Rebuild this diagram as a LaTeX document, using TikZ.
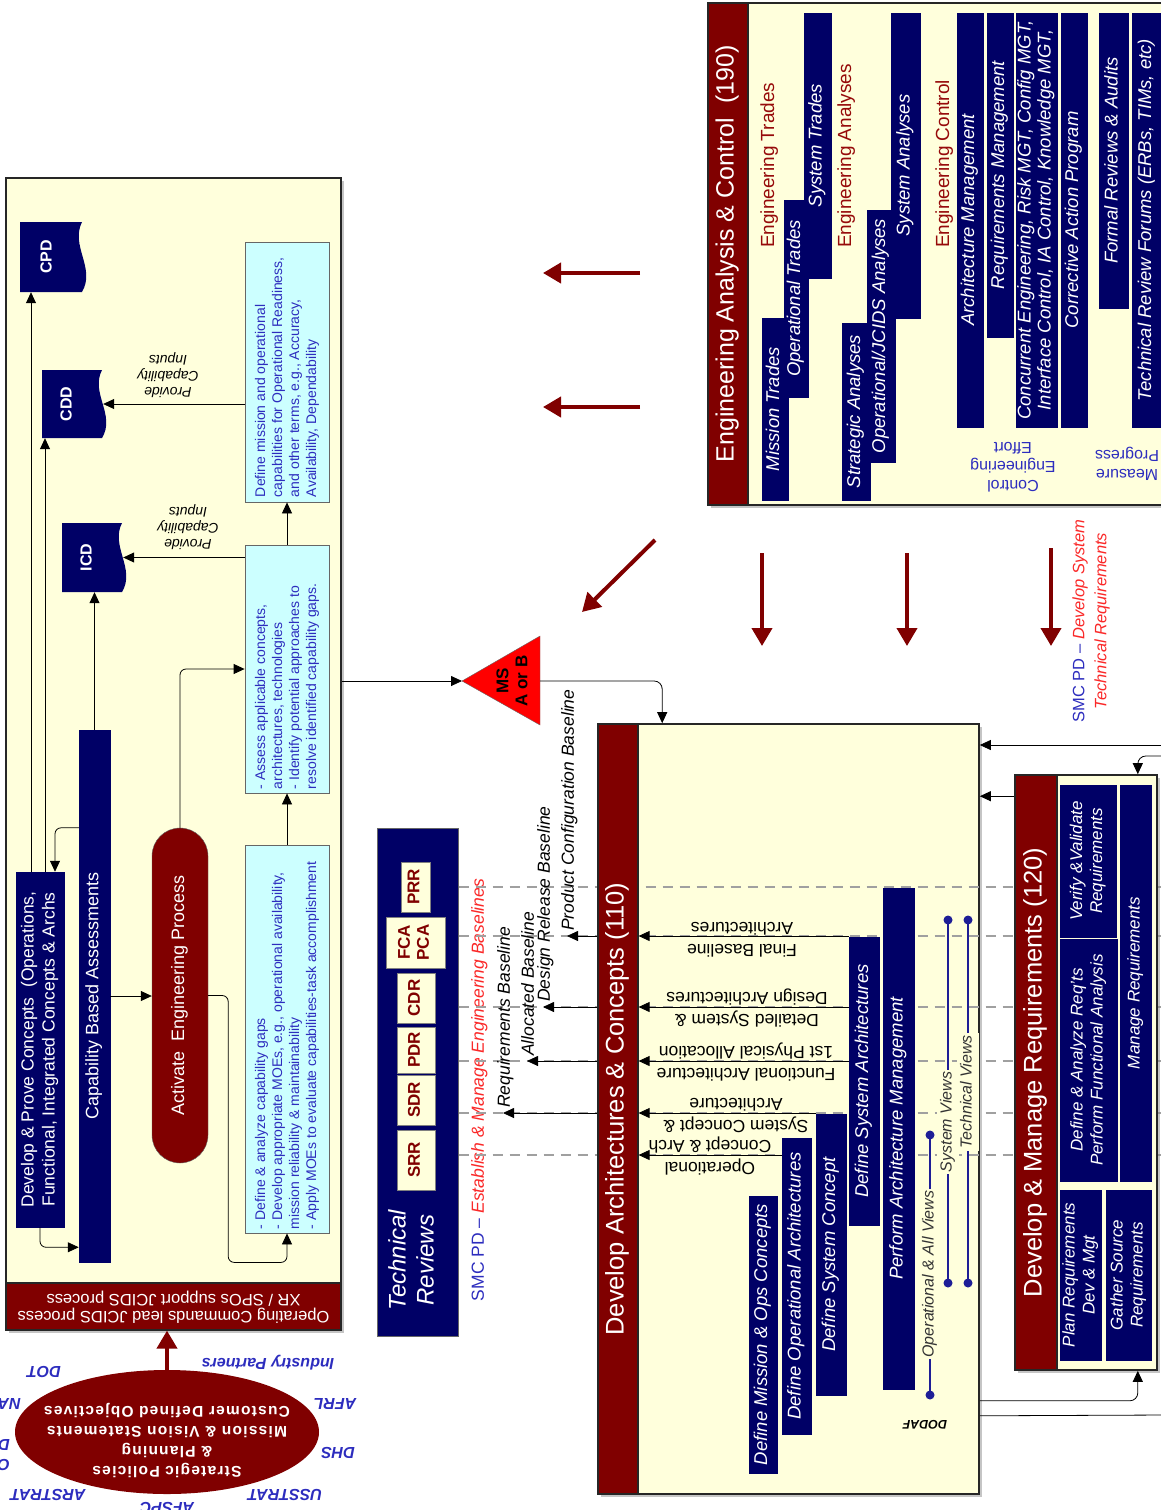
\documentclass[tikz,border=0pt]{standalone}
\usepackage{fontspec}
\setmainfont{Liberation Sans}
\usetikzlibrary{shapes.geometric,arrows.meta,positioning,shadows,calc}

\definecolor{dred}{RGB}{128,0,0}
\definecolor{navy}{RGB}{0,0,102}
\definecolor{cream}{RGB}{255,255,220}
\definecolor{lcyan}{RGB}{204,255,255}
\definecolor{tblue}{RGB}{45,45,190}
\definecolor{hred}{RGB}{150,10,10}
\definecolor{lred}{RGB}{250,40,40}
\definecolor{dgray}{RGB}{160,160,160}
\definecolor{legblue}{RGB}{30,30,150}
\definecolor{msred}{RGB}{255,0,0}

% rotated text helpers
\newcommand{\fs}[2]{\fontsize{#1}{#2}\selectfont}
\newcommand{\vt}[1]{\rotatebox{90}{\begin{tabular}{@{}c@{}}#1\end{tabular}}}
\newcommand{\vtl}[2]{\rotatebox{90}{\parbox{#1}{\raggedright #2}}}
\newcommand{\ut}[1]{\rotatebox{180}{\begin{tabular}{@{}c@{}}#1\end{tabular}}}

\tikzset{
  bigbox/.style={draw=black!85, line width=1.6pt, fill=cream, inner sep=0pt,
    drop shadow={shadow xshift=3pt, shadow yshift=-3pt, fill=black!45}},
  band/.style={draw=black!85, line width=1.2pt, fill=dred, text=white, inner sep=0pt},
  navybar/.style={fill=navy, draw=navy, line width=0.5pt, text=white, inner sep=0pt},
  ital/.style={font=\fs{18.5}{20}\itshape},
  head/.style={text=hred, inner sep=0pt, font=\fs{19}{21}},
  cyanbox/.style={fill=lcyan, draw=black!60, line width=0.8pt, text=tblue, inner sep=0pt},
  revbox/.style={fill=cream, draw=black!50, line width=0.5pt, text=dred, inner sep=0pt, font=\fs{17}{19}\bfseries},
  doctxt/.style={text=white, inner sep=0pt, font=\fs{16}{18}\bfseries},
  bigarrow/.style={draw=dred, line width=4pt, -{Triangle[length=18pt,width=20pt]}},
  conn/.style={draw=black, line width=0.8pt, -{Triangle[length=11pt,width=10pt]}},
  dashline/.style={draw=dgray, line width=2.5pt, dash pattern=on 10pt off 7pt},
  lbl/.style={inner sep=1pt, font=\fs{14}{16}\itshape},
  blabel/.style={text=tblue, inner sep=0pt, font=\fs{16}{19}},
  orgl/.style={text=tblue, inner sep=0pt, font=\fs{16}{18}\bfseries\itshape},
  bltxt/.style={inner sep=0pt, font=\fs{17.5}{19}\itshape},
  arrtxt/.style={inner sep=0pt, font=\fs{17.5}{22}},
  legline/.style={draw=legblue, line width=1.2pt},
  legtxt/.style={fill=cream, inner sep=2pt, text=black!80, font=\fs{16}{18}\itshape}
}

\begin{document}
\begin{tikzpicture}[x=1pt, y=-1pt]
\useasboundingbox (0,0) rectangle (1161,1510);

% ---------------- Engineering Analysis & Control
\node (eacbox) [bigbox, minimum width=467, minimum height=502] at (941.5,254) {};
\node (eacband) [band, minimum width=40, minimum height=502, font=\fs{25}{28}] at (728,254) {\vt{Engineering Analysis \& Control~~(190)}};

\node (engtr) [head, anchor=south] at (770,248) {\vt{Engineering Trades}};
\node (mistr) [navybar, ital, minimum width=26, minimum height=182] at (775,409) {\vt{Mission Trades}};
\node (optr) [navybar, ital, minimum width=24, minimum height=197] at (796,298.5) {\vt{Operational Trades}};
\node (systr) [navybar, ital, minimum width=27, minimum height=265] at (817.5,145.5) {\vt{System Trades}};

\node (engan) [head, anchor=south] at (847,248) {\vt{Engineering Analyses}};
\node (stran) [navybar, ital, minimum width=28, minimum height=177] at (856,411.5) {\vt{Strategic Analyses}};
\node (opjan) [navybar, ital, minimum width=28, minimum height=252] at (881,336) {\vt{Operational/JCIDS Analyses}};
\node (sysan) [navybar, ital, minimum width=29, minimum height=305] at (905.5,165.5) {\vt{System Analyses}};

\node (engco) [head, anchor=south] at (945,248) {\vt{Engineering Control}};
\node (archm) [navybar, ital, minimum width=26, minimum height=414] at (970,220) {\vt{Architecture Management}};
\node (reqm) [navybar, ital, minimum width=26, minimum height=324] at (1000,175) {\vt{Requirements Management}};
\node (conc) [navybar, ital, minimum width=41, minimum height=414] at (1036.5,220) {\vt{Concurrent Engineering, Risk MGT, Config MGT,\\Interface Control, IA Control, Knowledge MGT,}};
\node (corr) [navybar, ital, minimum width=26, minimum height=414] at (1074,220) {\vt{Corrective Action Program}};
\node (frev) [navybar, ital, minimum width=29, minimum height=295] at (1113.5,160.5) {\vt{Formal Reviews \& Audits}};
\node (trev) [navybar, ital, minimum width=30, minimum height=414] at (1147,220) {\vt{Technical Review Forums (ERBs, TIMs, etc)}};

\node (ctrl) [blabel] at (1013,465) {\ut{Control\\Engineering\\Effort}};
\node (meas) [blabel] at (1127,464) {\ut{Measure\\Progress}};

% feedback arrows
\coordinate (fa1) at (640,273);  \coordinate (fa2) at (543,273);
\coordinate (fb1) at (640,407);  \coordinate (fb2) at (543,407);
\coordinate (fc1) at (655,540);  \coordinate (fc2) at (582,612);
\coordinate (fd1) at (762,553);  \coordinate (fd2) at (762,646);
\coordinate (fe1) at (907,553);  \coordinate (fe2) at (907,646);
\coordinate (ff1) at (1051,548); \coordinate (ff2) at (1051,646);
\draw[bigarrow] (fa1) -- (fa2);
\draw[bigarrow] (fb1) -- (fb2);
\draw[bigarrow] (fc1) -- (fc2);
\draw[bigarrow] (fd1) -- (fd2);
\draw[bigarrow] (fe1) -- (fe2);
\draw[bigarrow] (ff1) -- (ff2);

\node (smcdev) [inner sep=0pt, font=\fs{16.5}{22}] at (1091,621) {\vt{{\color{tblue}SMC PD --} {\color{lred}\itshape Develop System}\\{\color{lred}\itshape Technical Requirements}}};

% ---------------- JCIDS box
\node (jbox) [bigbox, minimum width=335, minimum height=1152] at (173.5,754) {};
\node (jband) [band, minimum width=335, minimum height=47, font=\fs{16.5}{17}] at (173.5,1306.5) {\ut{Operating Commands lead JCIDS process\\XR / SPOs support JCIDS process}};

\fill[navy] (20,222) -- (82,222) .. controls (70,246) and (96,268) .. (82,292) -- (20,292) -- cycle;
\node (cpd) [doctxt, minimum width=56, minimum height=70] at (48,257) {\vt{CPD}};
\fill[navy] (42,370) -- (102,370) .. controls (90,393) and (116,415) .. (102,438) -- (42,438) -- cycle;
\node (cdd) [doctxt, minimum width=52, minimum height=68] at (68,404) {\vt{CDD}};
\fill[navy] (62,523) -- (122,523) .. controls (110,546) and (136,569) .. (122,592) -- (62,592) -- cycle;
\node (icd) [doctxt, minimum width=52, minimum height=69] at (88,557.5) {\vt{ICD}};

\node (cbdef) [cyanbox, minimum width=84, minimum height=260, font=\fs{14}{17}] at (287,372) {\vtl{250pt}{Define mission and operational\\capabilities for Operational Readiness,\\and other terms, e.g., Accuracy,\\Availability, Dependability}};
\node (cbass) [cyanbox, minimum width=84, minimum height=248, font=\fs{14}{17}] at (287,669) {\vtl{240pt}{- Assess applicable concepts,\\architectures, technologies\\- Identify potential approaches to\\resolve identified capability gaps.}};
\node (cbgap) [cyanbox, minimum width=84, minimum height=388, font=\fs{14}{17}] at (287,1039) {\vtl{380pt}{- Define \& analyze capability gaps\\- Develop appropriate MOEs, e.g., operational availability,\\mission reliability \& maintainability\\- Apply MOEs to evaluate capabilities-task accomplishment}};

\node (devp) [navybar, font=\fs{17.5}{21}, minimum width=48, minimum height=355] at (40,1049.5) {\vt{Develop \& Prove Concepts~~(Operations,\\Functional, Integrated Concepts \& Archs}};
\node (cba) [navybar, font=\fs{18}{20}, minimum width=31, minimum height=532] at (94.5,996) {\vt{Capability Based Assessments}};
\node (act) [fill=dred, draw=black!60, rounded corners=28pt, text=white, inner sep=0pt, font=\fs{18}{20}, minimum width=56, minimum height=335] at (180,995.5) {\vt{Activate~~Engineering Process}};

\draw[conn] ([xshift=-9pt]devp.north) -- ([xshift=-9pt]devp.north |- cpd.south);
\draw[conn] ([xshift=5pt]devp.north) -- ([xshift=5pt]devp.north |- cdd.south);
\draw[conn] (cba.north) -- (cba.north |- icd.south);
\draw[conn, rounded corners=6pt] (cba.west |- act.north) -| ([xshift=15pt]devp.north);
\draw[conn, rounded corners=6pt] (devp.south) |- ([yshift=15pt]cba.south west);
\draw[conn] (cba.east) -- (cba.east -| act.west);
\draw[conn, rounded corners=6pt] (act.north) |- (cbass.west);
\draw[conn, rounded corners=6pt] (act.east) -- ++(20,0) |- ([yshift=-29pt]cbgap.south) -- (cbgap.south);
\draw[conn] (cbgap.north) -- (cbass.south);
\draw[conn] (cbass.north) -- (cbdef.south);
\draw[conn] (cbdef.west |- cdd) -- ([xshift=9pt]cdd.east);
\draw[conn] (cbass.west |- icd) -- ([xshift=9pt]icd.east);
\node (pci1) [lbl] at (168,375) {\ut{Provide\\Capability\\Inputs}};
\node (pci2) [lbl] at (188,527) {\ut{Provide\\Capability\\Inputs}};

% ---------------- strategic policies
\node (strat) [ellipse, fill=dred, minimum width=304, minimum height=124, inner sep=0pt] at (167,1432) {};
\node (strattxt) [text=white, inner sep=0pt, font=\fs{15.5}{20}\bfseries\addfontfeature{LetterSpace=8}] at (167,1440) {\ut{Strategic Policies\\\& Planning\\Mission \& Vision Statements\\Customer Defined Objectives}};
\draw[bigarrow] (strat.north) -- (strat.north |- jband.south);

\node (indp) [orgl] at (268,1362) {\ut{Industry Partners}};
\node (dot) [orgl] at (44,1370) {\ut{DOT}};
\node (afrl) [orgl] at (335,1402) {\ut{AFRL}};
\node (nasa) [orgl, anchor=east] at (21,1402) {\ut{NASA}};
\node (dhs) [orgl] at (338,1451) {\ut{DHS}};
\node (dod) [orgl, anchor=east] at (10,1443) {\ut{DOD}};
\node (osd) [orgl, anchor=east] at (10,1463) {\ut{OSD}};
\node (usst) [orgl] at (285,1493) {\ut{USSTRAT}};
\node (arst) [orgl] at (48,1493) {\ut{ARSTRAT}};
\node (afspc) [orgl] at (167,1506) {\ut{AFSPC}};

% ---------------- milestone
\coordinate (mstip) at (462,681);
\coordinate (msbase) at (540,681);
\fill[msred, draw=black!60] (mstip) -- (540,636) -- (540,725) -- cycle;
\node (ms) [inner sep=0pt, font=\fs{17}{19}\bfseries] at (514,681) {\vt{MS\\A or B}};
\draw[conn] (jbox.east |- mstip) -- (mstip);

% ---------------- technical reviews
\node (trbox) [fill=navy, draw=black!60, line width=1pt, inner sep=0pt, minimum width=81, minimum height=508] at (417.5,1082) {};
\node (trtxt) [text=white, inner sep=0pt, font=\fs{24}{28}\itshape] at (414,1260) {\vt{Technical\\Reviews}};
\node (srr) [revbox, minimum width=38, minimum height=60] at (416,1160) {\vt{SRR}};
\node (sdr) [revbox, minimum width=38, minimum height=50] at (416,1100) {\vt{SDR}};
\node (pdr) [revbox, minimum width=38, minimum height=46] at (416,1050) {\vt{PDR}};
\node (cdr) [revbox, minimum width=38, minimum height=50] at (416,998) {\vt{CDR}};
\node (fca) [revbox, minimum width=59, minimum height=51] at (415.5,942.5) {\vt{FCA\\PCA}};
\node (prr) [revbox, minimum width=29, minimum height=50] at (415.5,887) {\vt{PRR}};

\node (smcbl) [inner sep=0pt, font=\fs{17.5}{19}] at (480,1090) {\vt{{\color{tblue}SMC PD --} {\color{lred}\itshape Establish \& Manage Engineering Baselines}}};

% ---------------- develop architectures & concepts
\node (dabox) [bigbox, minimum width=381, minimum height=770] at (788.5,1109) {};

\foreach \yy/\nm in {887/prr,936/fca,1007/cdr,1061/pdr,1113/sdr,1155/srr}{
  \coordinate (l\nm) at (trbox.east |- 0,\yy);
  \draw[dashline] (l\nm) -- ++(707,0);
}

\node (daband) [band, minimum width=40, minimum height=770, font=\fs{25.5}{28}] at (618,1109) {\vt{Develop Architectures \& Concepts (110)}};

\node (dmoc) [navybar, ital, minimum width=28, minimum height=277] at (763,1334.5) {\vt{Define Mission \& Ops Concepts}};
\node (doa) [navybar, ital, minimum width=29, minimum height=296] at (796.5,1286) {\vt{Define Operational Architectures}};
\node (dsc) [navybar, ital, minimum width=30, minimum height=281] at (831,1254.5) {\vt{Define System Concept}};
\node (dsa) [navybar, ital, minimum width=30, minimum height=288] at (864,1081) {\vt{Define System Architectures}};
\node (pam) [navybar, ital, minimum width=31, minimum height=501] at (898.5,1138.5) {\vt{Perform Architecture Management}};

\draw[conn] (doa.west |- lsrr) -- (daband.east |- lsrr);
\draw[conn] (dsc.west |- lsdr) -- (daband.east |- lsdr);
\draw[conn] (dsa.west |- lpdr) -- (daband.east |- lpdr);
\draw[conn] (dsa.west |- lcdr) -- (daband.east |- lcdr);
\draw[conn] (dsa.west |- lfca) -- (daband.east |- lfca);
\node (opca) [arrtxt] at (710,1156) {\ut{Operational\\Concept \& Arch}};
\node (scar) [arrtxt] at (736,1114) {\ut{System Concept \&\\Architecture}};
\node (fapa) [arrtxt] at (746,1062) {\ut{Functional Architecture\\1st Physical Allocation}};
\node (dsda) [arrtxt] at (747,1008) {\ut{Detailed System \&\\Design Architectures}};
\node (fba) [arrtxt] at (742,938) {\ut{Final Baseline\\Architectures}};

% DODAF legend
\coordinate (lg1a) at (930,1395); \coordinate (lg1b) at (930,1135);
\coordinate (lg2a) at (948,1283); \coordinate (lg2b) at (948,920);
\coordinate (lg3a) at (968,1283); \coordinate (lg3b) at (968,920);
\draw[legline] (lg1a) -- (lg1b);
\draw[legline] (lg2a) -- (lg2b);
\draw[legline] (lg3a) -- (lg3b);
\fill[legblue] (lg1a) circle (4.5pt) (lg1b) circle (4.5pt) (lg2a) circle (4.5pt) (lg2b) circle (4.5pt) (lg3a) circle (4.5pt) (lg3b) circle (4.5pt);
\node (lg1t) [legtxt] at (930,1274) {\vt{Operational \& All Views}};
\node (lg2t) [legtxt] at (948,1122) {\vt{System Views}};
\node (lg3t) [legtxt] at (968,1092) {\vt{Technical Views}};
\node (dodaf) [inner sep=0pt, font=\fs{12.5}{14}\bfseries\itshape] at (925,1423) {\ut{DODAF}};

% baselines
\coordinate (rbl) at (503,1113);
\coordinate (abl) at (527,1061);
\coordinate (dbl) at (543,1007);
\coordinate (pbl) at (567,936);
\draw[conn] (dabox.west |- rbl) -- (rbl);
\draw[conn] (dabox.west |- abl) -- (abl);
\draw[conn] (dabox.west |- dbl) -- (dbl);
\draw[conn] (dabox.west |- pbl) -- (pbl);
\node (rbltxt) [bltxt, anchor=south] at ([xshift=3pt,yshift=5pt]rbl) {\vt{Requirements Baseline}};
\node (abltxt) [bltxt, anchor=south] at ([xshift=3pt,yshift=5pt]abl) {\vt{Allocated Baseline}};
\node (dbltxt) [bltxt, anchor=south] at ([xshift=3pt,yshift=5pt]dbl) {\vt{Design Release Baseline}};
\node (pbltxt) [bltxt, anchor=south] at ([xshift=3pt,yshift=5pt]pbl) {\vt{Product Configuration Baseline}};

\draw[conn, rounded corners=8pt] (msbase) -| ([xshift=65pt]dabox.north west);

% ---------------- develop & manage requirements
\node (drbox) [bigbox, minimum width=142, minimum height=595] at (1086,1072.5) {};
\node (drband) [band, minimum width=42, minimum height=595, font=\fs{25.5}{28}] at (1036,1072.5) {\vt{Develop \& Manage Requirements (120)}};
\node (vvr) [navybar, font=\fs{17}{20}\itshape, minimum width=56, minimum height=152] at (1088,861) {\vt{Verify \&Validate\\Requirements}};
\node (dar) [navybar, font=\fs{17}{20}\itshape, minimum width=57, minimum height=242] at (1088.5,1060) {\vt{Define \& Analyze Req'ts\\Perform Functional Analysis}};
\node (mr) [navybar, font=\fs{17}{20}\itshape, minimum width=31, minimum height=396] at (1135.5,983) {\vt{Manage Requirements}};
\node (prd) [navybar, font=\fs{17}{20}\itshape, minimum width=41, minimum height=170] at (1080.5,1275) {\vt{Plan Requirements\\Dev \& Mgt}};
\node (gsr) [navybar, font=\fs{17}{20}\itshape, minimum width=45, minimum height=170] at (1128.5,1275) {\vt{Gather Source\\Requirements}};

\coordinate (rin1) at (1165,745);
\coordinate (rin2) at (1165,756);
\coordinate (rout) at (1165,1415);
\coordinate (drout) at ([yshift=-22pt]drbox.north west);
\draw[conn] (rin1) -- (dabox.east |- rin1);
\draw[conn] (drout) -- (dabox.east |- drout);
\draw[conn, rounded corners=8pt] (rin2) -| ([xshift=-20pt]drbox.north east);
\draw[conn, rounded corners=8pt] ($(drbox.south -| dabox.east)+(0,30)$) -| ([xshift=-20pt]drbox.south east);
\draw[line width=0.8pt] ($(drbox.south -| dabox.east)+(0,45)$) -- (rout);
\end{tikzpicture}
\end{document}
